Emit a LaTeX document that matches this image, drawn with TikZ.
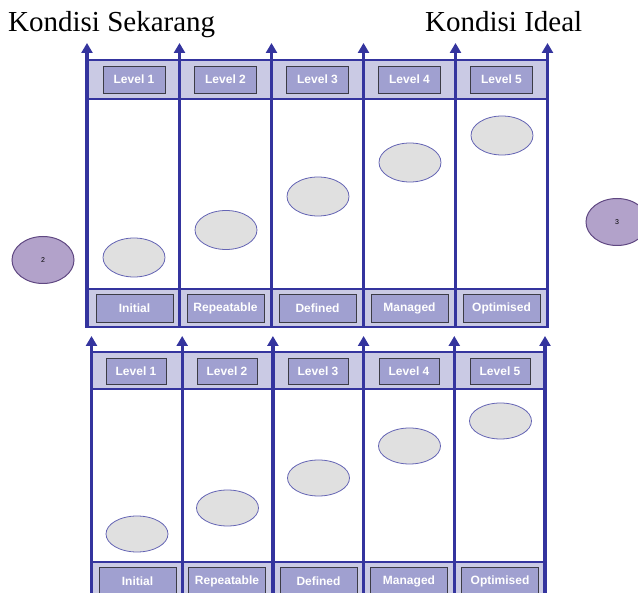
\documentclass[tikz,border=0pt]{standalone}
\usepackage{fontspec}
\setmainfont{Liberation Serif}
\newfontfamily\lblfont{Liberation Sans}
\usetikzlibrary{arrows.meta,shapes.geometric}

\definecolor{frameblue}{RGB}{52,52,158}
\definecolor{bandfill}{RGB}{202,202,228}
\definecolor{boxfill}{RGB}{160,160,208}
\definecolor{boxgray}{RGB}{60,60,70}
\definecolor{spotfill}{RGB}{224,224,224}
\definecolor{spotline}{RGB}{100,100,180}
\definecolor{gapfill}{RGB}{178,162,202}
\definecolor{gapline}{RGB}{96,72,130}

\tikzset{
  stage/.style={draw=boxgray, fill=boxfill, text=white, line width=0.8pt,
    font=\lblfont\bfseries\fontsize{12}{14}\selectfont, inner sep=0pt},
  levelbox/.style={stage, minimum width=62pt, minimum height=27pt},
  namebox/.style={stage, minimum width=77pt, minimum height=28pt},
  spot/.style={ellipse, draw=spotline, fill=spotfill, line width=0.8pt,
    minimum width=62pt, minimum height=39pt, inner sep=0pt},
  gapspot/.style={ellipse, draw=gapline, fill=gapfill, line width=1pt,
    minimum width=62pt, minimum height=47pt, inner sep=0pt,
    font=\lblfont\fontsize{7}{8}\selectfont},
  axis/.style={frameblue, line width=3.2pt, -{Triangle[width=11pt,length=10pt]}},
  rule/.style={frameblue, line width=2.2pt}
}

\begin{document}
\begin{tikzpicture}[x=1pt,y=-1pt]
  \useasboundingbox (0,0) rectangle (638,593);
  \clip (0,0) rectangle (638,593);

  \node[anchor=base west, inner sep=0pt, font=\fontsize{29}{32}\selectfont] (now) at (8,32) {Kondisi Sekarang};
  \node[anchor=base west, inner sep=0pt, font=\fontsize{29}{32}\selectfont] (ideal) at (425,32) {Kondisi Ideal};

  % upper chart
  \fill[bandfill] (87,60) rectangle (547.5,99);
  \fill[bandfill] (87,289) rectangle (547.5,327);
  \draw[rule] (87,60) -- (547.5,60);
  \draw[rule] (87,99) -- (547.5,99);
  \draw[rule] (87,289) -- (547.5,289);
  \draw[rule] (87,327) -- (547.5,327);

  \coordinate (u0) at (87,328);    \coordinate (u0t) at (87,43);
  \coordinate (u1) at (179.5,328); \coordinate (u1t) at (179.5,43);
  \coordinate (u2) at (271.5,328); \coordinate (u2t) at (271.5,43);
  \coordinate (u3) at (363.5,328); \coordinate (u3t) at (363.5,43);
  \coordinate (u4) at (455.5,328); \coordinate (u4t) at (455.5,43);
  \coordinate (u5) at (547.5,328); \coordinate (u5t) at (547.5,43);
  \draw[axis] (u0) -- (u0t);
  \draw[axis] (u1) -- (u1t);
  \draw[axis] (u2) -- (u2t);
  \draw[axis] (u3) -- (u3t);
  \draw[axis] (u4) -- (u4t);
  \draw[axis] (u5) -- (u5t);

  \node[levelbox] (ul1) at (134,79.5) {Level 1};
  \node[levelbox] (ul2) at (225.5,79.5) {Level 2};
  \node[levelbox] (ul3) at (317.5,79.5) {Level 3};
  \node[levelbox] (ul4) at (409.5,79.5) {Level 4};
  \node[levelbox] (ul5) at (501.5,79.5) {Level 5};

  \node[namebox] (un1) at (134.5,308) {Initial};
  \node[namebox] (un2) at (225.5,308) {Repeatable};
  \node[namebox] (un3) at (317.5,308) {Defined};
  \node[namebox] (un4) at (409.5,308) {Managed};
  \node[namebox] (un5) at (501.5,308) {Optimised};

  \node[spot] (us1) at (134,257.5) {};
  \node[spot] (us2) at (226,230) {};
  \node[spot] (us3) at (318,196.5) {};
  \node[spot] (us4) at (410,162.5) {};
  \node[spot] (us5) at (502,135.5) {};

  \node[gapspot] (gap2) at (43,260) {2};
  \node[gapspot] (gap3) at (617,222) {3};

  % lower chart
  \fill[bandfill] (91.5,352) rectangle (545,389);
  \fill[bandfill] (91.5,562) rectangle (545,600);
  \draw[rule] (91.5,352) -- (545,352);
  \draw[rule] (91.5,389) -- (545,389);
  \draw[rule] (91.5,562) -- (545,562);

  \coordinate (d0) at (91.5,600);  \coordinate (d0t) at (91.5,336);
  \coordinate (d1) at (182.2,600); \coordinate (d1t) at (182.2,336);
  \coordinate (d2) at (272.9,600); \coordinate (d2t) at (272.9,336);
  \coordinate (d3) at (363.6,600); \coordinate (d3t) at (363.6,336);
  \coordinate (d4) at (454.3,600); \coordinate (d4t) at (454.3,336);
  \coordinate (d5) at (545,600);   \coordinate (d5t) at (545,336);
  \draw[axis] (d0) -- (d0t);
  \draw[axis] (d1) -- (d1t);
  \draw[axis] (d2) -- (d2t);
  \draw[axis] (d3) -- (d3t);
  \draw[axis] (d4) -- (d4t);
  \draw[axis] (d5) -- (d5t);

  \node[levelbox, minimum width=60pt, minimum height=26pt] (dl1) at (136,371) {Level 1};
  \node[levelbox, minimum width=60pt, minimum height=26pt] (dl2) at (227,371) {Level 2};
  \node[levelbox, minimum width=60pt, minimum height=26pt] (dl3) at (318,371) {Level 3};
  \node[levelbox, minimum width=60pt, minimum height=26pt] (dl4) at (409,371) {Level 4};
  \node[levelbox, minimum width=60pt, minimum height=26pt] (dl5) at (500,371) {Level 5};

  \node[namebox] (dn1) at (137.5,581) {Initial};
  \node[namebox] (dn2) at (227,581) {Repeatable};
  \node[namebox] (dn3) at (318.5,581) {Defined};
  \node[namebox] (dn4) at (409,581) {Managed};
  \node[namebox] (dn5) at (500,581) {Optimised};

  \node[spot, minimum height=36pt] (ds1) at (137,534) {};
  \node[spot, minimum height=36pt] (ds2) at (227.5,508) {};
  \node[spot, minimum height=36pt] (ds3) at (318.5,478) {};
  \node[spot, minimum height=36pt] (ds4) at (409.5,446) {};
  \node[spot, minimum height=36pt] (ds5) at (500.5,421) {};
\end{tikzpicture}
\end{document}
